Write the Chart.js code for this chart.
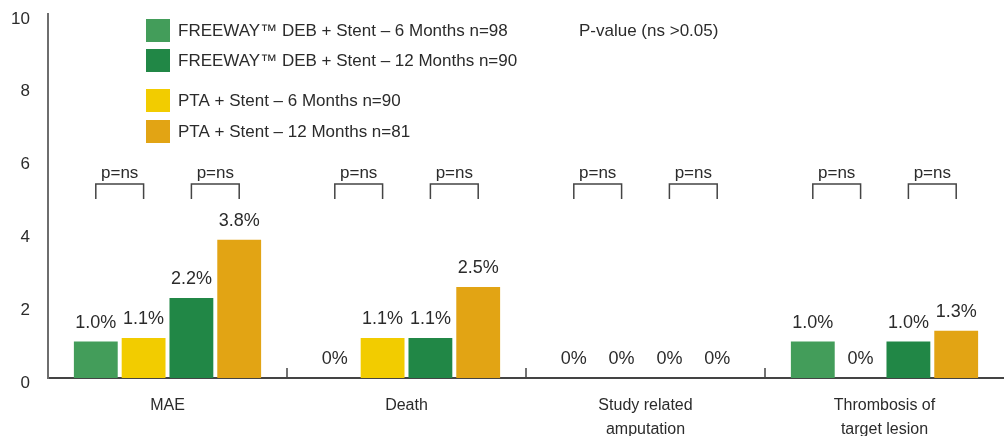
<!DOCTYPE html>
<html>
<head>
<meta charset="utf-8">
<script src="https://cdn.jsdelivr.net/npm/chart.js@4/dist/chart.umd.min.js"></script>
<style>
  html, body { margin: 0; padding: 0; background: #fff; }
  #wrap { width: 1004px; height: 436px; }
</style>
</head>
<body>
<div id="wrap"><canvas id="chart" width="1004" height="436"></canvas></div>
<script>
// Données (%)
const categories = [['MAE'], ['Death'], ['Study related', 'amputation'], ['Thrombosis of', 'target lesion']];
const freeway6 = [1.0, 0, 0, 1.0];
const pta6 = [1.1, 1.1, 0, 0];
const freeway12 = [2.2, 1.1, 0, 1.0];
const pta12 = [3.8, 2.5, 0, 1.3];
const yTicks = [0, 2, 4, 6, 8, 10];

const seriesLabels = [
  'FREEWAY\u2122 DEB + Stent \u2013 6 Months n=98',
  'PTA + Stent \u2013 6 Months n=90',
  'FREEWAY\u2122 DEB + Stent \u2013 12 Months n=90',
  'PTA + Stent \u2013 12 Months n=81'
];
const seriesColors = ['#439D5A', '#F2CC00', '#218746', '#E2A414'];
const legendOrder = [0, 2, 1, 3];
const pValueNote = 'P-value (ns >0.05)';
const pairLabel = 'p=ns';

const FONT = "'Liberation Sans', Arial, sans-serif";
const TEXT = '#2b2b2b';

// Étiquettes de valeur au-dessus des barres
const valueLabels = {
  id: 'valueLabels',
  afterDatasetsDraw(chart) {
    const ctx = chart.ctx;
    ctx.save();
    ctx.font = '18px ' + FONT;
    ctx.fillStyle = TEXT;
    ctx.textAlign = 'center';
    ctx.textBaseline = 'alphabetic';
    chart.data.datasets.forEach((ds, di) => {
      chart.getDatasetMeta(di).data.forEach((bar, i) => {
        const v = ds.data[i];
        const txt = v === 0 ? '0%' : v.toFixed(1) + '%';
        ctx.fillText(txt, bar.x, bar.y - 14);
      });
    });
    ctx.restore();
  }
};

// Crochets "p=ns" entre paires de barres
const brackets = {
  id: 'brackets',
  afterDatasetsDraw(chart) {
    const ctx = chart.ctx;
    const y = chart.scales.y;
    const top = y.getPixelForValue(5.33);
    const leg = y.getPixelForValue(4.92);
    ctx.save();
    ctx.strokeStyle = '#444';
    ctx.lineWidth = 1.5;
    ctx.font = '17px ' + FONT;
    ctx.fillStyle = TEXT;
    ctx.textAlign = 'center';
    ctx.textBaseline = 'alphabetic';
    [[0, 1], [2, 3]].forEach(([a, b]) => {
      const ma = chart.getDatasetMeta(a).data;
      const mb = chart.getDatasetMeta(b).data;
      ma.forEach((barA, i) => {
        const x1 = barA.x, x2 = mb[i].x;
        ctx.beginPath();
        ctx.moveTo(x1, leg);
        ctx.lineTo(x1, top);
        ctx.lineTo(x2, top);
        ctx.lineTo(x2, leg);
        ctx.stroke();
        ctx.fillText(pairLabel, (x1 + x2) / 2, top - 6);
      });
    });
    ctx.restore();
  }
};

// Petites graduations entre catégories sur l'axe X
const catTicks = {
  id: 'catTicks',
  afterDraw(chart) {
    const ctx = chart.ctx;
    const x = chart.scales.x;
    const yb = chart.chartArea.bottom;
    const half = (x.getPixelForValue(1) - x.getPixelForValue(0)) / 2;
    ctx.save();
    ctx.strokeStyle = '#444';
    ctx.lineWidth = 1.5;
    for (let i = 1; i < categories.length; i++) {
      const px = x.getPixelForValue(i) - half;
      ctx.beginPath();
      ctx.moveTo(px, yb);
      ctx.lineTo(px, yb - 10);
      ctx.stroke();
    }
    ctx.restore();
  }
};

// Légende personnalisée (ordre différent des barres)
const customLegend = {
  id: 'customLegend',
  afterDraw(chart) {
    const ctx = chart.ctx;
    const rows = [19, 49, 89, 120];
    ctx.save();
    ctx.font = '17px ' + FONT;
    ctx.textBaseline = 'middle';
    ctx.textAlign = 'left';
    legendOrder.forEach((di, r) => {
      ctx.fillStyle = seriesColors[di];
      ctx.fillRect(146, rows[r], 24, 23);
      ctx.fillStyle = TEXT;
      ctx.fillText(seriesLabels[di], 178, rows[r] + 12);
    });
    ctx.fillText(pValueNote, 579, 31);
    ctx.restore();
  }
};

new Chart(document.getElementById('chart'), {
  type: 'bar',
  data: {
    labels: categories,
    datasets: [freeway6, pta6, freeway12, pta12].map((d, i) => ({
      label: seriesLabels[i],
      data: d,
      backgroundColor: seriesColors[i],
      borderWidth: 0,
      categoryPercentage: 0.8,
      barPercentage: 0.917
    }))
  },
  options: {
    responsive: false,
    animation: false,
    devicePixelRatio: 1,
    layout: { padding: { top: 14, left: 0, right: 0, bottom: 0 } },
    plugins: {
      legend: { display: false },
      tooltip: { enabled: false }
    },
    scales: {
      x: {
        grid: { display: false, drawTicks: false },
        border: { display: true, color: '#444', width: 2 },
        ticks: { color: TEXT, font: { family: FONT, size: 16, lineHeight: 1.5 }, padding: 16, maxRotation: 0 },
        afterFit(scale) { scale.height = 58; scale.paddingLeft = 0; scale.paddingRight = 0; }
      },
      y: {
        min: 0,
        max: 10,
        afterBuildTicks(scale) { scale.ticks = yTicks.map(v => ({ value: v })); },
        grid: { display: false, drawTicks: false },
        border: { display: true, color: '#6e6e6e', width: 2 },
        ticks: { color: TEXT, font: { family: FONT, size: 17 }, padding: 18, labelOffset: 5 },
        afterFit(scale) { scale.width = 48; scale.paddingTop = 0; scale.paddingBottom = 0; }
      }
    }
  },
  plugins: [valueLabels, brackets, catTicks, customLegend]
});
</script>
</body>
</html>
